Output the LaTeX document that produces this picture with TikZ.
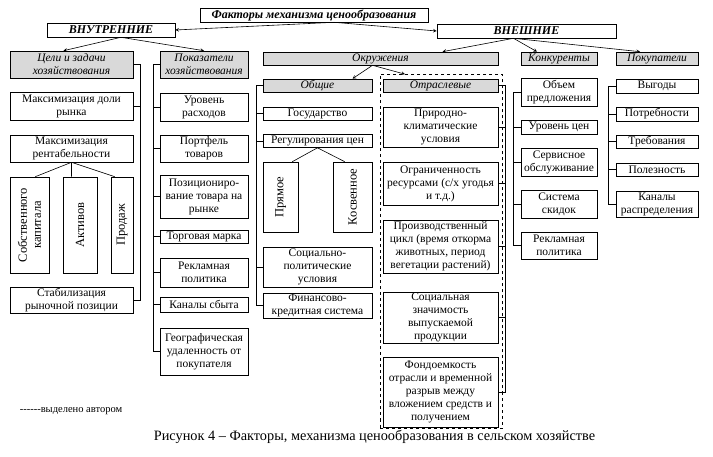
\documentclass[tikz,border=0pt]{standalone}
\usepackage{fontspec}
\setmainfont{Liberation Serif}
\usetikzlibrary{arrows}
\newcommand{\cellsize}{\fontsize{11.5}{13}\selectfont}
\tikzset{>=stealth, % small filled arrow heads
factor/.style={draw, fill=white, align=center, inner sep=0pt, font=\cellsize}, % ordinary factor box
grouphead/.style={factor, fill=gray!30, font=\cellsize\itshape}, % grey heading of a group
levelhead/.style={factor, font=\fontsize{12}{13}\selectfont\bfseries\itshape}, % first levels
upright/.style={factor, rotate=90, font=\fontsize{12.5}{14}\selectfont}, % box with text read from below
wh/.style 2 args={minimum width=#1, minimum height=#2}, % box size in pixels
}

\begin{document}
\begin{tikzpicture}[x=1pt, y=-1pt, line width=0.6pt]
    \useasboundingbox (0,0) rectangle (713,457);

    % first levels
    \node[levelhead, wh={228}{14}] (title) at (314,15) {Факторы механизма ценообразования};
    \node[levelhead, wh={128}{14}] (inner) at (111,30) {ВНУТРЕННИЕ};
    \node[levelhead, wh={179}{14}] (outer) at (526.5,31) {ВНЕШНИЕ};

    % group headings
    \node[grouphead, wh={123}{27}] (goals) at (71.5,64.5) {Цели и задачи\\хозяйствования};
    \node[grouphead, wh={88}{27}] (indic) at (204,64.5) {Показатели\\хозяйствования};
    \node[grouphead, wh={235}{13}] (env) at (380.5,58.5) {Окружения};
    \node[grouphead, wh={76}{13}] (comp) at (559,58.5) {Конкуренты};
    \node[grouphead, wh={82}{13}] (buyers) at (657,58.5) {Покупатели};

    % goals of the farm
    \node[factor, wh={123}{28}] (share) at (71.5,106) {Максимизация доли\\рынка};
    \node[factor, wh={123}{27}] (profit) at (71.5,148.5) {Максимизация\\рентабельности};
    \node[upright, wh={96}{39}] (capital) at (29.5,225) {Собственного\\капитала};
    \node[upright, wh={96}{34}] (assets) at (80,225) {Активов};
    \node[upright, wh={96}{22}] (sales) at (122,225) {Продаж};
    \node[factor, wh={123}{26}] (stab) at (71.5,300) {Стабилизация\\рыночной позиции};

    % indicators
    \node[factor, wh={88}{28}] (cost) at (204,107) {Уровень\\расходов};
    \node[factor, wh={88}{27}] (portf) at (204,148.5) {Портфель\\товаров};
    \node[factor, wh={88}{43}] (posit) at (204,196.5) {Позициониро-\\вание товара на\\рынке};
    \node[factor, wh={88}{13}] (brand) at (204,236.5) {Торговая марка};
    \node[factor, wh={88}{29}] (adv) at (204,272.5) {Рекламная\\политика};
    \node[factor, wh={88}{15}] (chan) at (204,304.5) {Каналы сбыта};
    \node[factor, wh={88}{47}] (geo) at (204,351.5) {Географическая\\удаленность от\\покупателя};

    % general environment
    \node[grouphead, wh={109}{13}] (common) at (317.5,85.5) {Общие};
    \node[factor, wh={109}{13}] (state) at (317.5,113.5) {Государство};
    \node[factor, wh={109}{13}] (regul) at (317.5,141) {Регулирования цен};
    \node[upright, wh={70}{35}] (direct) at (280.5,197) {Прямое};
    \node[upright, wh={70}{39}] (indirect) at (352.5,197) {Косвенное};
    \node[factor, wh={109}{40}] (social) at (317.5,267) {Социально-\\политические\\условия};
    \node[factor, wh={109}{25}] (fin) at (317.5,305.5) {Финансово-\\кредитная система};

    % branch environment (marked by the author)
    \node[draw, dashed, wh={122}{354}] (branchgrp) at (441,251.5) {};
    \node[grouphead, wh={115}{13}] (branch) at (440.5,85.5) {Отраслевые};
    \node[factor, wh={115}{40}] (climate) at (440.5,127) {Природно-\\климатические\\условия};
    \node[factor, wh={115}{43}] (resour) at (440.5,183.5) {Ограниченность\\ресурсами (с/х угодья\\и т.д.)};
    \node[factor, wh={115}{53}] (cycle) at (440.5,246.5) {Производственный\\цикл (время откорма\\животных, период\\вегетации растений)};
    \node[factor, wh={115}{51}] (signif) at (440.5,317.5) {Социальная\\значимость\\выпускаемой\\продукции};
    \node[factor, wh={115}{70}] (fund) at (440.5,392) {Фондоемкость\\отрасли и временной\\разрыв между\\вложением средств и\\получением};

    % competitors
    \node[factor, wh={76}{28}] (volume) at (559,92) {Объем\\предложения};
    \node[factor, wh={76}{14}] (price) at (559,127) {Уровень цен};
    \node[factor, wh={76}{28}] (service) at (559,162) {Сервисное\\обслуживание};
    \node[factor, wh={76}{28}] (disc) at (559,204) {Система\\скидок};
    \node[factor, wh={76}{27}] (cadv) at (559,245.5) {Рекламная\\политика};

    % buyers
    \node[factor, wh={82}{14}] (benef) at (657,86) {Выгоды};
    \node[factor, wh={82}{14}] (needs) at (657,114) {Потребности};
    \node[factor, wh={82}{13}] (req) at (657,141.5) {Требования};
    \node[factor, wh={82}{13}] (useful) at (657,169.5) {Полезность};
    \node[factor, wh={82}{26}] (distr) at (657,204) {Каналы\\распределения};

    % arrows between levels
    \draw[->] ([xshift=20pt]title.south) -- (inner.east);
    \draw[->] ([xshift=20pt]title.south) -- (outer.west);
    \draw[->] ([xshift=10pt]inner.south) -- ([xshift=-8pt]goals.north);
    \draw[->] ([xshift=10pt]inner.south) -- (indic.north);
    \draw[->] ([xshift=-13pt]outer.south) -- ([xshift=62pt]env.north);
    \draw[->] ([xshift=-13pt]outer.south) -- ([xshift=-22pt]comp.north);
    \draw[->] ([xshift=-13pt]outer.south) -- ([xshift=-17pt]buyers.north);
    \draw[->] ([xshift=-8pt]env.south) -- ([xshift=35pt]common.north);
    \draw[->] ([xshift=-8pt]env.south) -- ([xshift=-36pt]branchgrp.north);

    % splits of the profitability and of the price regulation
    \draw (profit.south) -- ([xshift=-14pt]capital.south east)
    (profit.south) -- (profit.south |- assets.east)
    (profit.south) -- ([xshift=4pt]sales.north east);
    \draw (regul.south) -- ([xshift=-6pt]direct.south east)
    (regul.south) -- ([xshift=12pt]indirect.north east);

    % brackets joining the boxes of one column
    \coordinate (gbar) at (140,0);
    \coordinate (ibar) at (153,0);
    \coordinate (cbar) at (256,0);
    \coordinate (bbar) at (505,0);
    \coordinate (kbar) at (513,0);
    \coordinate (pbar) at (608,0);
    \draw (goals.east) -| (gbar |- stab.east) -- (stab.east)
    (share.east) -- (share.east -| gbar);
    \draw (indic.west) -| (ibar |- geo.west) -- (geo.west)
    (cost.west) -- (cost.west -| ibar)
    (portf.west) -- (portf.west -| ibar)
    (posit.west) -- (posit.west -| ibar)
    (brand.west) -- (brand.west -| ibar)
    (adv.west) -- (adv.west -| ibar)
    (chan.west) -- (chan.west -| ibar);
    \draw (common.west) -| (cbar |- fin.west) -- (fin.west)
    (state.west) -- (state.west -| cbar)
    (regul.west) -- (regul.west -| cbar)
    (social.west) -- (social.west -| cbar);
    \draw (branch.east) -| (bbar |- fund.east) -- (fund.east)
    (climate.east) -- (climate.east -| bbar)
    (resour.east) -- (resour.east -| bbar)
    (cycle.east) -- (cycle.east -| bbar)
    (signif.east) -- (signif.east -| bbar);
    \draw (volume.west) -| (kbar |- cadv.west) -- (cadv.west)
    (price.west) -- (price.west -| kbar)
    (service.west) -- (service.west -| kbar)
    (disc.west) -- (disc.west -| kbar);
    \draw (benef.west) -| (pbar |- distr.west) -- (distr.west)
    (needs.west) -- (needs.west -| pbar)
    (req.west) -- (req.west -| pbar)
    (useful.west) -- (useful.west -| pbar);

    % legend and caption
    \node[font=\fontsize{10.5}{12}\selectfont] (legend) at (71,411) {{-}{-}{-}{-}{-}{-}выделено автором};
    \node[font=\fontsize{14.3}{16}\selectfont] (caption) at (374.5,437) {Рисунок 4 – Факторы, механизма ценообразования в сельском хозяйстве};
\end{tikzpicture}
\end{document}
